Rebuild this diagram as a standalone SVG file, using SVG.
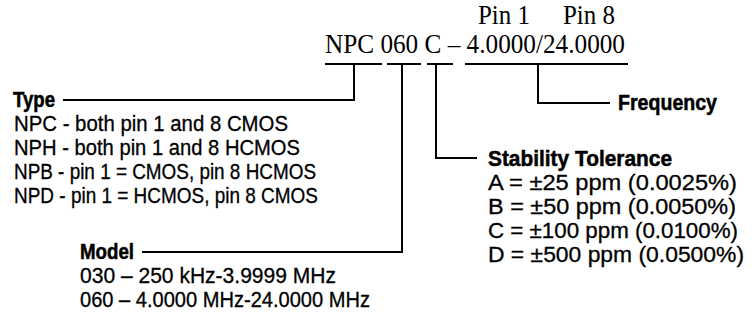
<svg xmlns="http://www.w3.org/2000/svg" width="754" height="322" viewBox="0 0 754 322">
<style>
.bg{fill:#ffffff}
.serif{font-family:"Liberation Serif","DejaVu Serif",serif;font-size:27px;fill:#000}
.sans{font-family:"Liberation Sans","DejaVu Sans",sans-serif;font-size:21.5px;fill:#000;stroke:#000;stroke-width:0.3}
.head{font-family:"Liberation Sans","DejaVu Sans",sans-serif;font-size:21.5px;font-weight:bold;fill:#000;stroke:#000;stroke-width:0.5}
.ln{stroke:#000;stroke-width:2;fill:none}
</style>
<rect class="bg" x="0" y="0" width="754" height="322"/>
<g id="part-number">
<text class="serif" x="478" y="24" textLength="52" lengthAdjust="spacingAndGlyphs">Pin 1</text>
<text class="serif" x="563" y="24" textLength="52" lengthAdjust="spacingAndGlyphs">Pin 8</text>
<text class="serif" x="325" y="53" textLength="300" lengthAdjust="spacingAndGlyphs">NPC 060 C – 4.0000/24.0000</text>
</g>
<g id="type">
<text class="head" x="13" y="107" textLength="42" lengthAdjust="spacingAndGlyphs">Type</text>
<text class="sans" x="14" y="131" textLength="274" lengthAdjust="spacingAndGlyphs">NPC - both pin 1 and 8 CMOS</text>
<text class="sans" x="14" y="155" textLength="286" lengthAdjust="spacingAndGlyphs">NPH - both pin 1 and 8 HCMOS</text>
<text class="sans" x="14" y="179" textLength="302" lengthAdjust="spacingAndGlyphs">NPB - pin 1 = CMOS, pin 8 HCMOS</text>
<text class="sans" x="14" y="203" textLength="304" lengthAdjust="spacingAndGlyphs">NPD - pin 1 = HCMOS, pin 8 CMOS</text>
</g>
<g id="model">
<text class="head" x="80" y="259" textLength="54" lengthAdjust="spacingAndGlyphs">Model</text>
<text class="sans" x="80" y="283" textLength="256" lengthAdjust="spacingAndGlyphs">030 – 250 kHz-3.9999 MHz</text>
<text class="sans" x="80" y="307" textLength="290" lengthAdjust="spacingAndGlyphs">060 – 4.0000 MHz-24.0000 MHz</text>
</g>
<g id="stability">
<text class="head" x="488" y="166" textLength="184" lengthAdjust="spacingAndGlyphs">Stability Tolerance</text>
<text class="sans" x="488" y="190" textLength="249" lengthAdjust="spacingAndGlyphs">A = ±25 ppm (0.0025%)</text>
<text class="sans" x="488" y="214" textLength="248" lengthAdjust="spacingAndGlyphs">B = ±50 ppm (0.0050%)</text>
<text class="sans" x="488" y="238" textLength="250" lengthAdjust="spacingAndGlyphs">C = ±100 ppm (0.0100%)</text>
<text class="sans" x="488" y="262" textLength="256" lengthAdjust="spacingAndGlyphs">D = ±500 ppm (0.0500%)</text>
</g>
<g id="frequency">
<text class="head" x="618" y="110" textLength="99" lengthAdjust="spacingAndGlyphs">Frequency</text>
</g>
<g id="connectors">
<line class="ln" x1="325" y1="64" x2="382" y2="64"/>
<line class="ln" x1="387" y1="64" x2="421" y2="64"/>
<line class="ln" x1="427" y1="64" x2="453" y2="64"/>
<line class="ln" x1="465" y1="64" x2="628" y2="64"/>
<polyline class="ln" points="354,64 354,100 63,100"/>
<polyline class="ln" points="402,64 402,252 142,252"/>
<polyline class="ln" points="436,64 436,158 477,158"/>
<polyline class="ln" points="538,64 538,103 610,103"/>
</g>
</svg>
